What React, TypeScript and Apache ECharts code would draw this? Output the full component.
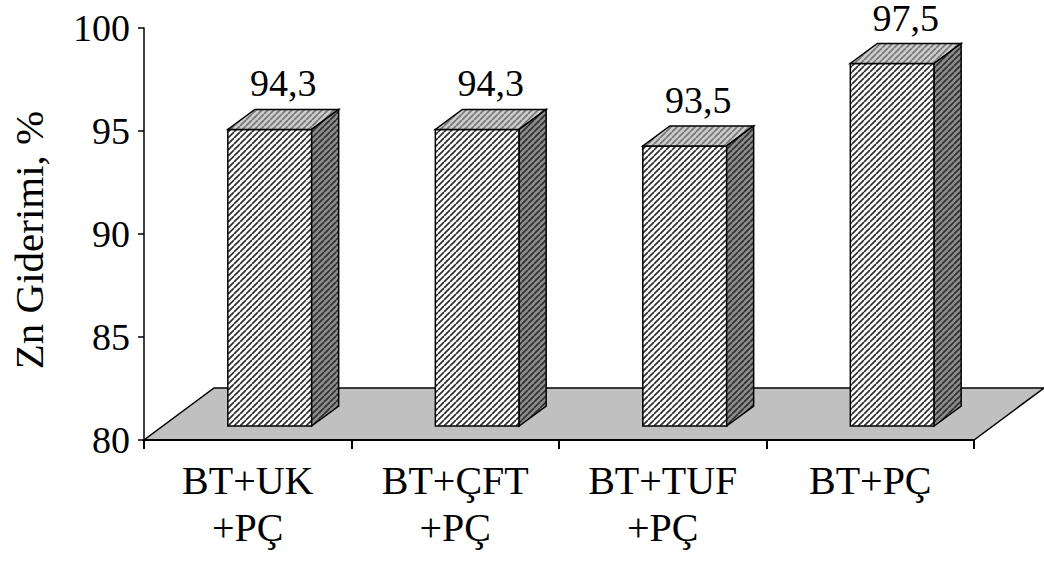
import React, { useEffect, useRef } from "react";
import * as echarts from "echarts";

// Treatment combinations and their zinc removal (%)
const categories = ["BT+UK\n+PÇ", "BT+ÇFT\n+PÇ", "BT+TUF\n+PÇ", "BT+PÇ"];
const removal = [94.3, 94.3, 93.5, 97.5];
const yMin = 80;
const yMax = 100;
const yStep = 5;

const FONT = "Liberation Serif";

// Diagonal hatch tile ("/" stripes) as a data URL
function stripeTile(bg: string, fg: string, size = 6, lw = 1.7): string {
  const c = document.createElement("canvas");
  c.width = size;
  c.height = size;
  const ctx = c.getContext("2d")!;
  ctx.fillStyle = bg;
  ctx.fillRect(0, 0, size, size);
  ctx.strokeStyle = fg;
  ctx.lineWidth = lw;
  ctx.beginPath();
  for (let k = -1; k <= 1; k++) {
    ctx.moveTo(k * size, size);
    ctx.lineTo(k * size + size, 0);
  }
  ctx.stroke();
  return c.toDataURL();
}

export default function App() {
  const ref = useRef<HTMLDivElement>(null);

  useEffect(() => {
    if (!ref.current) return;
    const chart = echarts.init(ref.current, undefined, { renderer: "svg" });

    const frontFill = { image: stripeTile("#ffffff", "#303030"), repeat: "repeat" };
    const topFill = { image: stripeTile("#cccccc", "#777777"), repeat: "repeat" };
    const sideFill = { image: stripeTile("#8c8c8c", "#303030"), repeat: "repeat" };

    // depth offsets of the pseudo-3D floor and boxes
    const floorDx = 70;
    const floorDy = -52;
    const boxDx = 27;
    const boxDy = -20;

    const option: any = {
      animation: false,
      backgroundColor: "#ffffff",
      grid: { left: 143, top: 28, width: 831, height: 412 },
      xAxis: {
        type: "category",
        data: categories,
        boundaryGap: true,
        axisLine: { show: true, lineStyle: { color: "#000", width: 2 } },
        axisTick: { show: true, alignWithLabel: false, length: 9, lineStyle: { color: "#000", width: 2 } },
        axisLabel: {
          color: "#000",
          fontFamily: FONT,
          fontSize: 40,
          lineHeight: 47,
          margin: 17,
          interval: 0,
        },
        splitLine: { show: false },
        z: 10,
      },
      yAxis: {
        type: "value",
        min: yMin,
        max: yMax,
        interval: yStep,
        name: "Zn Giderimi, %",
        nameLocation: "middle",
        nameGap: 95,
        nameTextStyle: { color: "#000", fontFamily: FONT, fontSize: 41, padding: [0, 12, 0, 0] },
        axisLine: { show: true, lineStyle: { color: "#000", width: 1.5 } },
        axisTick: { show: true, length: 6, lineStyle: { color: "#000", width: 1.5 } },
        axisLabel: { color: "#000", fontFamily: FONT, fontSize: 38, margin: 14 },
        splitLine: { show: false },
      },
      series: [
        {
          // grey floor plane
          type: "custom",
          data: [[0, yMin]],
          encode: { x: 0, y: 1 },
          z: 1,
          clip: false,
          silent: true,
          renderItem: (params: any, api: any) => {
            const cs = params.coordSys;
            const y0 = api.coord([0, yMin])[1];
            const x0 = cs.x;
            const x1 = cs.x + cs.width;
            return {
              type: "polygon",
              shape: {
                points: [
                  [x0, y0],
                  [x1, y0],
                  [x1 + floorDx, y0 + floorDy],
                  [x0 + floorDx, y0 + floorDy],
                ],
              },
              style: { fill: "#c0c0c0", stroke: "#000", lineWidth: 1.5 },
            };
          },
        },
        {
          // hatched boxes with value labels
          type: "custom",
          data: removal.map((v, i) => [i, v]),
          encode: { x: 0, y: 1 },
          z: 5,
          clip: false,
          renderItem: (params: any, api: any) => {
            const i = api.value(0);
            const v = api.value(1);
            const top = api.coord([i, v]);
            const base = api.coord([i, yMin]);
            const band = api.size([1, 0])[0];
            const fl = top[0] - band * 0.096;
            const fr = fl + band * 0.404;
            const fb = base[1] - 14;
            const ft = top[1] - 16;
            const stroke = { stroke: "#000", lineWidth: 1.5, lineJoin: "miter" };
            return {
              type: "group",
              children: [
                {
                  type: "polygon",
                  shape: { points: [[fl, fb], [fr, fb], [fr, ft], [fl, ft]] },
                  style: { fill: frontFill, ...stroke },
                },
                {
                  type: "polygon",
                  shape: {
                    points: [
                      [fl, ft],
                      [fr, ft],
                      [fr + boxDx, ft + boxDy],
                      [fl + boxDx, ft + boxDy],
                    ],
                  },
                  style: { fill: topFill, ...stroke },
                },
                {
                  type: "polygon",
                  shape: {
                    points: [
                      [fr, fb],
                      [fr + boxDx, fb + boxDy],
                      [fr + boxDx, ft + boxDy],
                      [fr, ft],
                    ],
                  },
                  style: { fill: sideFill, ...stroke },
                },
                {
                  type: "text",
                  x: (fl + fr + boxDx) / 2,
                  y: ft + boxDy - 7,
                  style: {
                    text: String(v).replace(".", ","),
                    fontFamily: FONT,
                    fontSize: 38,
                    lineHeight: 38,
                    fill: "#000",
                    align: "center",
                    verticalAlign: "bottom",
                  },
                },
              ],
            };
          },
        },
      ],
    };

    chart.setOption(option);
    return () => chart.dispose();
  }, []);

  return (
    <div
      ref={ref}
      style={{ position: "fixed", left: 0, top: 0, width: 1044, height: 561, background: "#fff" }}
    />
  );
}
